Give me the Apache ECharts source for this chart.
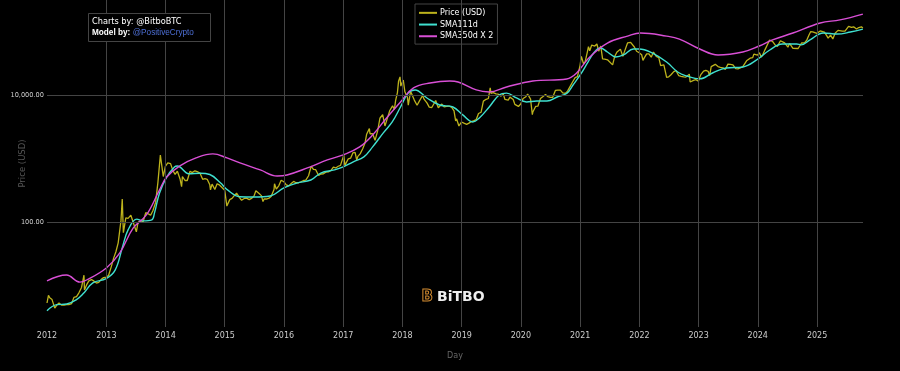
<!DOCTYPE html>
<html>
<head>
<meta charset="utf-8">
<script src="https://cdn.jsdelivr.net/npm/echarts@6/dist/echarts.min.js"></script>
<style>html,body{margin:0;padding:0;background:#000;}#c{width:900px;height:371px;}</style>
</head>
<body>
<div id="c"></div>
<script>
// ---- data ----
const yearTicks = ['2013-01-01','2014-01-01','2015-01-01','2016-01-01','2017-01-01','2018-01-01','2019-01-01','2020-01-01','2021-01-01','2022-01-01','2023-01-01','2024-01-01','2025-01-01'];
const priceTicks = [100, 10000];

const price = [
['2012-01-01',5.3],['2012-01-10',7.0],['2012-01-18',6.4],['2012-02-01',6.0],['2012-02-18',4.4],['2012-03-01',4.9],['2012-03-15',5.3],['2012-04-01',4.9],['2012-04-15',4.9],['2012-05-01',5.0],['2012-05-15',5.0],['2012-06-01',5.2],['2012-06-15',6.5],['2012-07-01',6.7],['2012-07-15',7.6],['2012-08-01',9.3],['2012-08-16',14.5],['2012-08-19',8.5],['2012-09-01',10.2],['2012-09-15',11.8],['2012-10-01',12.4],['2012-10-15',11.8],['2012-11-01',10.9],['2012-11-15',11.2],['2012-12-01',12.5],['2012-12-15',13.3],
['2013-01-01',13.5],['2013-01-15',14.5],['2013-02-01',20],['2013-02-15',27],['2013-03-01',34],['2013-03-15',47],['2013-04-01',104],['2013-04-09',230],['2013-04-16',68],['2013-05-01',116],['2013-05-15',114],['2013-06-01',128],['2013-06-15',100],['2013-07-05',70],['2013-07-15',98],['2013-08-01',105],['2013-08-15',100],['2013-09-01',140],['2013-09-15',135],['2013-10-01',128],['2013-10-15',150],['2013-11-01',205],['2013-11-15',420],['2013-11-30',1130],['2013-12-05',1140],['2013-12-18',520],['2013-12-31',750],
['2014-01-15',850],['2014-02-01',830],['2014-02-15',650],['2014-03-01',560],['2014-03-15',630],['2014-04-01',470],['2014-04-10',360],['2014-04-15',520],['2014-05-01',450],['2014-05-15',450],['2014-06-01',630],['2014-06-15',600],['2014-07-01',640],['2014-07-15',620],['2014-08-01',590],['2014-08-18',470],['2014-09-01',480],['2014-09-15',470],['2014-10-01',385],['2014-10-05',320],['2014-10-15',395],['2014-11-01',325],['2014-11-15',400],['2014-12-01',380],['2014-12-15',350],
['2015-01-01',315],['2015-01-14',178],['2015-02-01',225],['2015-02-15',235],['2015-03-01',260],['2015-03-15',285],['2015-04-01',245],['2015-04-15',220],['2015-05-01',235],['2015-05-15',237],['2015-06-01',225],['2015-06-15',235],['2015-07-01',258],['2015-07-12',310],['2015-08-01',280],['2015-08-15',260],['2015-08-25',210],['2015-09-01',230],['2015-09-15',230],['2015-10-01',237],['2015-10-15',255],['2015-11-01',325],['2015-11-04',400],['2015-11-15',330],['2015-12-01',375],['2015-12-15',455],
['2016-01-01',430],['2016-01-15',385],['2016-02-01',370],['2016-02-15',405],['2016-03-01',435],['2016-03-15',415],['2016-04-01',415],['2016-04-15',430],['2016-05-01',450],['2016-05-15',455],['2016-06-01',535],['2016-06-17',760],['2016-07-01',675],['2016-07-15',665],['2016-08-02',540],['2016-08-15',570],['2016-09-01',575],['2016-09-15',610],['2016-10-01',615],['2016-10-15',640],['2016-11-01',730],['2016-11-15',710],['2016-12-01',755],['2016-12-15',780],
['2017-01-04',1130],['2017-01-11',780],['2017-01-15',820],['2017-02-01',990],['2017-02-15',1010],['2017-03-01',1220],['2017-03-15',1250],['2017-03-25',940],['2017-04-01',1080],['2017-04-15',1180],['2017-05-01',1420],['2017-05-15',1750],['2017-05-25',2400],['2017-06-01',2400],['2017-06-11',2950],['2017-06-15',2450],['2017-07-01',2450],['2017-07-16',1930],['2017-08-01',2720],['2017-08-15',4300],['2017-09-01',4900],['2017-09-15',3250],['2017-10-01',4400],['2017-10-15',5700],['2017-11-01',6750],['2017-11-12',5900],['2017-11-20',8200],['2017-12-01',10900],['2017-12-08',16500],['2017-12-17',19300],['2017-12-22',13800],['2017-12-31',14100],
['2018-01-06',17200],['2018-01-16',11200],['2018-02-01',9100],['2018-02-06',6900],['2018-02-20',11400],['2018-03-01',10900],['2018-03-15',8300],['2018-04-01',6900],['2018-04-06',6600],['2018-04-15',8000],['2018-05-05',9800],['2018-05-15',8500],['2018-06-01',7500],['2018-06-15',6450],['2018-07-01',6350],['2018-07-25',8200],['2018-08-10',6300],['2018-08-15',6300],['2018-09-01',7200],['2018-09-15',6500],['2018-10-01',6600],['2018-10-15',6700],['2018-11-01',6350],['2018-11-15',5600],['2018-11-25',3900],['2018-12-01',4200],['2018-12-15',3250],['2018-12-31',3750],
['2019-01-15',3600],['2019-02-01',3450],['2019-02-15',3600],['2019-03-01',3800],['2019-03-15',3900],['2019-04-01',4100],['2019-04-15',5100],['2019-05-01',5350],['2019-05-15',8000],['2019-06-01',8550],['2019-06-15',8800],['2019-06-26',12900],['2019-07-01',10600],['2019-07-15',10900],['2019-08-01',10400],['2019-08-15',10300],['2019-09-01',9600],['2019-09-15',10300],['2019-09-25',8500],['2019-10-15',8300],['2019-10-26',9250],['2019-11-01',9200],['2019-11-15',8500],['2019-11-25',7100],['2019-12-01',7400],['2019-12-17',6600],['2019-12-31',7200],
['2020-01-15',8800],['2020-02-01',9400],['2020-02-12',10300],['2020-03-01',8600],['2020-03-12',4900],['2020-03-15',5400],['2020-04-01',6600],['2020-04-15',6650],['2020-05-01',8800],['2020-05-15',9400],['2020-06-01',10200],['2020-06-15',9450],['2020-07-01',9200],['2020-07-15',9150],['2020-08-01',11800],['2020-08-15',11900],['2020-09-01',11900],['2020-09-15',10800],['2020-10-01',10600],['2020-10-15',11500],['2020-11-01',13800],['2020-11-15',16000],['2020-12-01',18800],['2020-12-15',19400],['2020-12-31',29000],
['2021-01-08',40600],['2021-01-22',30800],['2021-02-01',33500],['2021-02-15',48700],['2021-02-21',57500],['2021-03-01',49600],['2021-03-13',61200],['2021-04-01',59000],['2021-04-14',63500],['2021-04-25',49000],['2021-05-08',58800],['2021-05-19',37000],['2021-06-01',36600],['2021-06-20',35600],['2021-07-01',33500],['2021-07-20',29800],['2021-08-01',39900],['2021-08-15',47000],['2021-09-06',52700],['2021-09-21',40700],['2021-10-01',48200],['2021-10-20',66000],['2021-11-08',67500],['2021-11-15',63500],['2021-12-01',57000],['2021-12-15',48900],['2021-12-31',46300],
['2022-01-15',43100],['2022-01-23',35000],['2022-02-01',38700],['2022-02-15',44500],['2022-03-01',44400],['2022-03-15',39300],['2022-03-29',47500],['2022-04-15',40500],['2022-05-01',38500],['2022-05-12',29000],['2022-06-01',29800],['2022-06-18',19000],['2022-07-01',19300],['2022-07-15',20800],['2022-08-01',23300],['2022-08-15',24100],['2022-09-01',20100],['2022-09-15',19700],['2022-10-01',19300],['2022-10-15',19100],['2022-11-05',21300],['2022-11-10',16000],['2022-12-01',17000],['2022-12-15',17400],['2022-12-31',16550],
['2023-01-15',20900],['2023-02-01',23700],['2023-02-15',24300],['2023-03-01',23600],['2023-03-10',20200],['2023-03-20',28000],['2023-04-01',28400],['2023-04-14',30400],['2023-05-01',28000],['2023-05-15',27200],['2023-06-01',26800],['2023-06-15',25100],['2023-07-01',30600],['2023-07-15',30300],['2023-08-01',29700],['2023-08-18',26000],['2023-09-01',25800],['2023-09-15',26600],['2023-10-01',27900],['2023-10-24',34500],['2023-11-01',35400],['2023-11-15',37900],['2023-12-01',38700],['2023-12-08',44000],['2023-12-31',42300],
['2024-01-11',46300],['2024-01-23',39500],['2024-02-01',43000],['2024-02-15',51800],['2024-03-01',62400],['2024-03-14',73100],['2024-04-01',69700],['2024-04-17',61300],['2024-05-01',58300],['2024-05-20',71400],['2024-06-01',67800],['2024-06-15',66000],['2024-07-05',56600],['2024-07-15',64800],['2024-08-05',54000],['2024-08-15',57600],['2024-09-06',53900],['2024-09-27',65800],['2024-10-15',66000],['2024-10-29',72700],['2024-11-12',88000],['2024-11-22',98900],['2024-12-05',98700],['2024-12-17',106000],['2024-12-31',93400],
['2025-01-20',102000],['2025-02-01',100600],['2025-02-15',97500],['2025-03-01',86000],['2025-03-10',78500],['2025-03-25',87500],['2025-04-08',76300],['2025-04-22',93500],['2025-05-10',104000],['2025-05-22',111500],['2025-06-05',101500],['2025-06-22',101000],['2025-07-01',105700],['2025-07-14',120000],['2025-08-01',115700],['2025-08-14',118500],['2025-09-01',109200],['2025-09-15',115300],['2025-10-01',118600],['2025-10-06',124700],['2025-10-10',113000]
];

const sma111 = [
['2012-01-01',4.0],['2012-03-01',5.0],['2012-05-01',5.1],['2012-07-01',6.0],['2012-08-15',7.6],['2012-10-10',11.0],['2012-12-31',12.8],['2013-02-25',17.6],['2013-04-10',40],['2013-05-15',75],['2013-07-08',111],['2013-08-15',104],['2013-10-08',108],['2013-10-25',139],['2013-11-25',286],
['2014-01-08',510],['2014-02-25',735],['2014-03-15',760],['2014-05-25',575],['2014-08-01',585],['2014-10-01',560],['2014-12-07',410],['2015-01-18',320],['2015-04-05',250],['2015-07-01',247],['2015-10-08',256],
['2016-01-01',345],['2016-03-20',410],['2016-06-15',458],['2016-08-15',590],['2016-11-08',660],['2017-01-01',735],['2017-03-01',880],['2017-05-08',1060],['2017-07-01',1520],['2017-09-05',2530],['2017-10-30',3760],['2017-12-20',6470],
['2018-02-05',10700],['2018-03-20',12000],['2018-06-01',8970],['2018-08-18',6960],['2018-11-08',6470],['2019-01-08',4850],['2019-03-10',3760],['2019-04-20',4340],['2019-06-20',6470],['2019-08-20',10000],['2019-10-05',10700],['2019-12-05',8970],
['2020-02-05',7760],['2020-04-08',8040],['2020-06-10',8040],['2020-08-12',9300],['2020-10-12',10700],['2020-11-18',14370],['2021-01-01',20650],['2021-02-15',31900],['2021-03-25',45900],['2021-05-05',55000],['2021-06-18',47500],['2021-08-08',39700],['2021-09-25',42700],['2021-11-25',53000],['2021-12-31',53000],
['2022-03-20',45900],['2022-06-18',33000],['2022-08-25',23000],['2022-10-20',19900],['2023-01-08',17900],['2023-03-28',22200],['2023-06-20',26600],['2023-10-01',27600],['2023-12-25',35600],
['2024-03-15',51100],['2024-06-01',63500],['2024-08-28',63500],['2024-09-25',61500],['2024-11-18',73600],['2025-02-08',94600],['2025-05-05',91000],['2025-07-25',98000],['2025-10-10',109000]
];

const sma350x2 = [
['2012-01-01',11.8],['2012-04-30',14.6],['2012-07-22',11.3],['2012-09-01',12.2],['2013-01-01',18.9],['2013-03-25',32.5],['2013-06-15',80],['2013-09-05',129],['2013-11-25',320],
['2014-01-08',510],['2014-03-28',760],['2014-07-08',1020],['2014-10-20',1180],['2015-01-15',1020],['2015-04-05',850],['2015-08-08',660],['2015-11-20',530],
['2016-01-20',550],['2016-05-25',710],['2016-09-25',950],['2017-01-01',1140],['2017-04-12',1520],['2017-07-01',2340],['2017-09-25',4340],['2017-12-20',7760],
['2018-03-10',12900],['2018-06-20',15460],['2018-10-20',16600],['2018-12-10',16000],['2019-04-01',12000],['2019-06-20',11150],['2019-10-05',13370],
['2020-03-15',16600],['2020-10-10',17870],['2020-12-10',22200],['2021-03-01',39700],['2021-06-18',65800],['2021-10-20',84600],['2022-01-08',94600],
['2022-06-18',84600],['2022-09-05',76000],['2023-01-08',53000],['2023-05-01',42700],['2023-10-01',47500],['2024-01-10',59000],['2024-04-01',73600],['2024-08-05',94600],
['2025-01-20',136000],['2025-05-22',152000],['2025-10-10',188000]
];

const seriesNames = ['Price (USD)', 'SMA111d', 'SMA350d X 2'];
const xMin = '2012-01-01', xMax = '2025-10-11';
const yMin = 2.22, yMax = 313000;

// ---- chart ----
const chart = echarts.init(document.getElementById('c'), null, {renderer: 'canvas'});
const YEAR = 365.25 * 24 * 3600 * 1000;
const FONT = 'DejaVu Sans';
chart.setOption({
  backgroundColor: '#000',
  animation: false,
  textStyle: {fontFamily: FONT},
  grid: {left: 47, right: 37, top: 0, bottom: 44, containLabel: false, outerBoundsMode: 'none'},
  legend: {
    data: seriesNames,
    orient: 'vertical',
    left: 415, top: 4,
    icon: 'rect', itemWidth: 18, itemHeight: 2, itemGap: 0,
    padding: [3, 4, 2, 4],
    borderColor: '#444', borderWidth: 1, backgroundColor: '#000',
    textStyle: {color: '#fff', fontSize: 8, lineHeight: 11.7, padding: [0, 0, 0, -2], fontFamily: FONT}
  },
  xAxis: {
    type: 'time', min: xMin, max: xMax,
    splitNumber: 14, minInterval: YEAR * 0.99, maxInterval: YEAR * 1.01,
    name: 'Day', nameLocation: 'middle', nameGap: 25, nameMoveOverlap: false,
    nameTextStyle: {color: '#666', fontSize: 8},
    axisLine: {show: false}, axisTick: {show: false}, splitLine: {show: false},
    axisLabel: {
      color: '#ccc', fontSize: 8, margin: 5, hideOverlap: false, showMaxLabel: false,
      formatter: function (v) { const d = new Date(v); return (d.getMonth() === 0 && d.getDate() === 1) ? String(d.getFullYear()) : ''; }
    }
  },
  yAxis: {
    type: 'log', logBase: 10, min: yMin, max: yMax,
    name: 'Price (USD)', nameLocation: 'middle', nameGap: 20, nameMoveOverlap: false,
    nameTextStyle: {color: '#555', fontSize: 8.5},
    axisLine: {show: false}, axisTick: {show: false}, splitLine: {show: false},
    axisLabel: {
      color: '#ccc', fontSize: 6.6, margin: 3,
      formatter: function (v) { const r = Math.round(v); if (r === 100) return '100.00'; if (r === 10000) return '10,000.00'; return ''; }
    }
  },
  graphic: [
    {type: 'rect', left: 88, top: 13, shape: {width: 122, height: 28}, style: {fill: '#000', stroke: '#444', lineWidth: 1}, z: 10},
    {type: 'text', left: 92, top: 16, z: 11, style: {
      text: 'Charts by: @BitboBTC\n{b|Model by:} {l|@PositiveCrypto}',
      fill: '#fff', font: '8.2px "DejaVu Sans"', lineHeight: 11,
      rich: {b: {fontWeight: 'bold', fill: '#fff', fontSize: 8.2}, l: {fill: '#4d6fd6', fontSize: 8.2}}
    }},
    {type: 'text', left: 421, top: 289, z: 11, style: {text: 'B', font: 'bold 15px "DejaVu Sans"', fill: 'rgba(0,0,0,0)', stroke: '#d08a30', lineWidth: 1}},
    {type: 'text', left: 437, top: 290, z: 11, style: {text: 'BiTBO', font: 'bold 14px "DejaVu Sans"', fill: '#eee'}}
  ],
  series: [
    {
      name: 'grid', type: 'line', data: [], z: 1, silent: true,
      markLine: {
        silent: true, symbol: 'none', label: {show: false}, animation: false,
        lineStyle: {color: '#444', width: 1, type: 'solid'},
        data: yearTicks.map(function (d) { return {xAxis: d}; }).concat(priceTicks.map(function (v) { return {yAxis: v}; }))
      }
    },
    {name: seriesNames[0], type: 'line', data: price, showSymbol: false, z: 3, lineStyle: {color: '#bdb31c', width: 1.3}, itemStyle: {color: '#bdb31c'}},
    {name: seriesNames[1], type: 'line', data: sma111, showSymbol: false, smooth: 0.4, z: 4, lineStyle: {color: '#3fe0cf', width: 1.4}, itemStyle: {color: '#3fe0cf'}},
    {name: seriesNames[2], type: 'line', data: sma350x2, showSymbol: false, smooth: 0.4, z: 4, lineStyle: {color: '#d94fd6', width: 1.4}, itemStyle: {color: '#d94fd6'}}
  ]
});
</script>
</body>
</html>
